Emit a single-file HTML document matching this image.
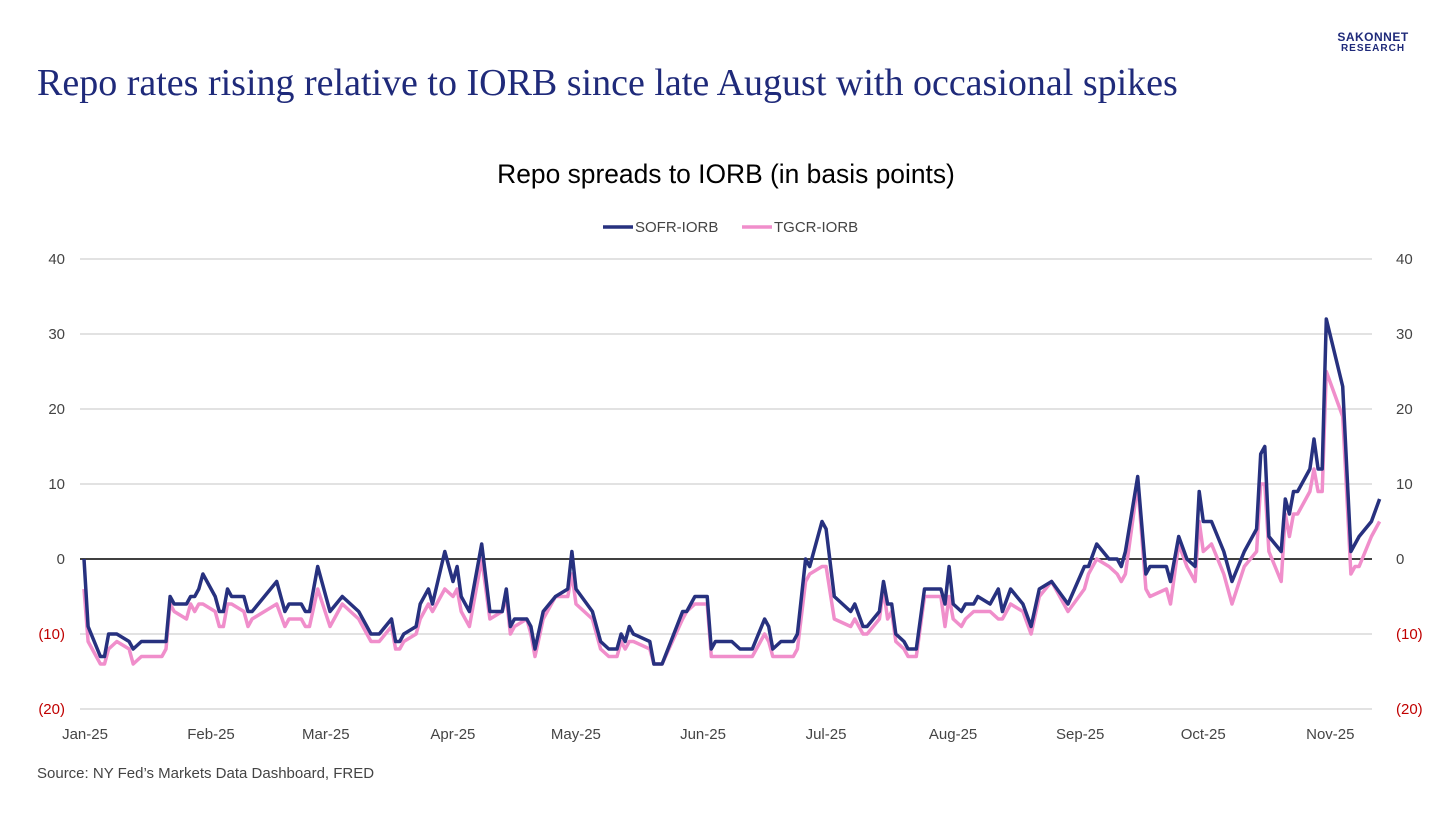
<!DOCTYPE html>
<html><head><meta charset="utf-8"><style>
body{margin:0;background:#fff;width:1456px;height:819px;overflow:hidden;font-family:"Liberation Sans",sans-serif}
</style></head><body>
<svg width="1456" height="819" xmlns="http://www.w3.org/2000/svg">
<text x="1373" y="41" text-anchor="middle" font-size="12" font-weight="bold" fill="#1f2a7a" letter-spacing="0.5">SAKONNET</text>
<text x="1373" y="51" text-anchor="middle" font-size="10" font-weight="bold" fill="#1f2a7a" letter-spacing="1">RESEARCH</text>
<text x="37" y="95" font-family="Liberation Serif,serif" font-size="38" fill="#1f2a7a">Repo rates rising relative to IORB since late August with occasional spikes</text>
<text x="726" y="183" text-anchor="middle" font-size="26.4" fill="#000">Repo spreads to IORB (in basis points)</text>
<g>
<line x1="603" y1="227" x2="633" y2="227" stroke="#27317f" stroke-width="3.5"/>
<text x="635" y="232" font-size="15" fill="#444">SOFR-IORB</text>
<line x1="742" y1="227" x2="772" y2="227" stroke="#f08ecb" stroke-width="3.5"/>
<text x="774" y="232" font-size="15" fill="#444">TGCR-IORB</text>
</g>
<g id="plot"></g>
<text x="37" y="778" font-size="15" fill="#444">Source: NY Fed’s Markets Data Dashboard, FRED</text>
</svg>
<script>
const days=[0,1,4,5,6,8,11,12,14,19,20,21,22,25,26,27,28,29,32,33,34,35,36,39,40,41,44,47,49,50,53,54,55,57,60,63,65,67,70,72,75,76,77,78,81,82,84,85,88,90,91,92,94,97,99,102,103,104,105,108,109,110,112,115,118,119,120,124,126,128,130,131,132,133,134,138,139,141,146,147,149,152,153,154,158,160,163,166,167,168,170,173,174,176,177,180,181,183,187,188,190,191,194,195,196,197,198,200,201,203,205,209,210,211,212,214,215,217,218,221,223,224,226,229,231,233,236,240,244,245,247,250,252,253,254,257,259,260,264,265,267,269,271,272,273,275,278,280,283,286,287,288,289,292,293,294,295,296,299,300,301,302,303,307,309,310,311,314,316];
const sofr=[0,-9,-13,-13,-10,-10,-11,-12,-11,-11,-11,-5,-6,-6,-5,-5,-4,-2,-5,-7,-7,-4,-5,-5,-7,-7,-5,-3,-7,-6,-6,-7,-7,-1,-7,-5,-6,-7,-10,-10,-8,-11,-11,-10,-9,-6,-4,-6,1,-3,-1,-5,-7,2,-7,-7,-4,-9,-8,-8,-9,-12,-7,-5,-4,1,-4,-7,-11,-12,-12,-10,-11,-9,-10,-11,-14,-14,-7,-7,-5,-5,-12,-11,-11,-12,-12,-8,-9,-12,-11,-11,-10,0,-1,5,4,-5,-7,-6,-9,-9,-7,-3,-6,-6,-10,-11,-12,-12,-4,-4,-6,-1,-6,-7,-6,-6,-5,-6,-4,-7,-4,-6,-9,-4,-3,-6,-1,-1,2,0,0,-1,1,11,-2,-1,-1,-3,3,0,-1,9,5,5,1,-3,1,4,14,15,3,1,8,6,9,9,12,16,12,12,32,23,1,2,3,5,8];
const tgcr=[-4,-11,-14,-14,-12,-11,-12,-14,-13,-13,-12,-6,-7,-8,-6,-7,-6,-6,-7,-9,-9,-6,-6,-7,-9,-8,-7,-6,-9,-8,-8,-9,-9,-4,-9,-6,-7,-8,-11,-11,-9,-12,-12,-11,-10,-8,-6,-7,-4,-5,-4,-7,-9,0,-8,-7,-5,-10,-9,-8,-10,-13,-8,-5,-5,-2,-6,-8,-12,-13,-13,-11,-12,-11,-11,-12,-14,-14,-8,-7,-6,-6,-13,-13,-13,-13,-13,-10,-11,-13,-13,-13,-12,-3,-2,-1,-1,-8,-9,-8,-10,-10,-8,-4,-8,-7,-11,-12,-13,-13,-5,-5,-9,-5,-8,-9,-8,-7,-7,-7,-8,-8,-6,-7,-10,-5,-3,-7,-4,-2,0,-1,-2,-3,-2,10,-4,-5,-4,-6,2,-1,-3,5,1,2,-2,-6,-1,1,10,10,1,-3,6,3,6,6,9,12,9,9,25,19,-2,-1,-1,3,5];
const yTicks=[40,30,20,10,0,-10,-20];
const monthLabels=["Jan-25","Feb-25","Mar-25","Apr-25","May-25","Jun-25","Jul-25","Aug-25","Sep-25","Oct-25","Nov-25"];
const monthDays=[0,30,58,89,119,150,180,211,242,272,303];
const NS="http://www.w3.org/2000/svg";
const X=d=>84+d*4.1;
const Y=v=>559-v*7.5;
const g=document.getElementById('plot');
function mk(t,a){const e=document.createElementNS(NS,t);for(const k in a)e.setAttribute(k,a[k]);g.appendChild(e);return e;}
yTicks.forEach(v=>{
 const l=mk('line',{x1:80,x2:1372,y1:Y(v),y2:Y(v),stroke:v===0?'#000':'#d0d0d0','stroke-width':v===0?1.5:1.3});
 
 
 const lab=v<0?'('+(-v)+')':String(v);
 const c=v<0?'#c00000':'#444';
 const t1=mk('text',{x:65,y:Y(v)+5,'text-anchor':'end','font-size':15,fill:c});t1.textContent=lab;
 
 
 const t2=mk('text',{x:1396,y:Y(v)+5,'font-size':15,fill:c});t2.textContent=lab;
 
 
});
monthLabels.forEach((m,i)=>{
 const t=mk('text',{x:X(monthDays[i])+(i?4:1),y:739,'text-anchor':'middle','font-size':15,fill:'#444'});t.textContent=m;
 
 
});
function line(vals,color,name){
 const p=mk('polyline',{points:days.map((d,i)=>X(d)+','+Y(vals[i])).join(' '),fill:'none',stroke:color,'stroke-width':3.5,'stroke-linejoin':'round'});
 
 
}
line(tgcr,'#f08ecb','tgcr-line');
line(sofr,'#27317f','sofr-line');
</script>
</body></html>
